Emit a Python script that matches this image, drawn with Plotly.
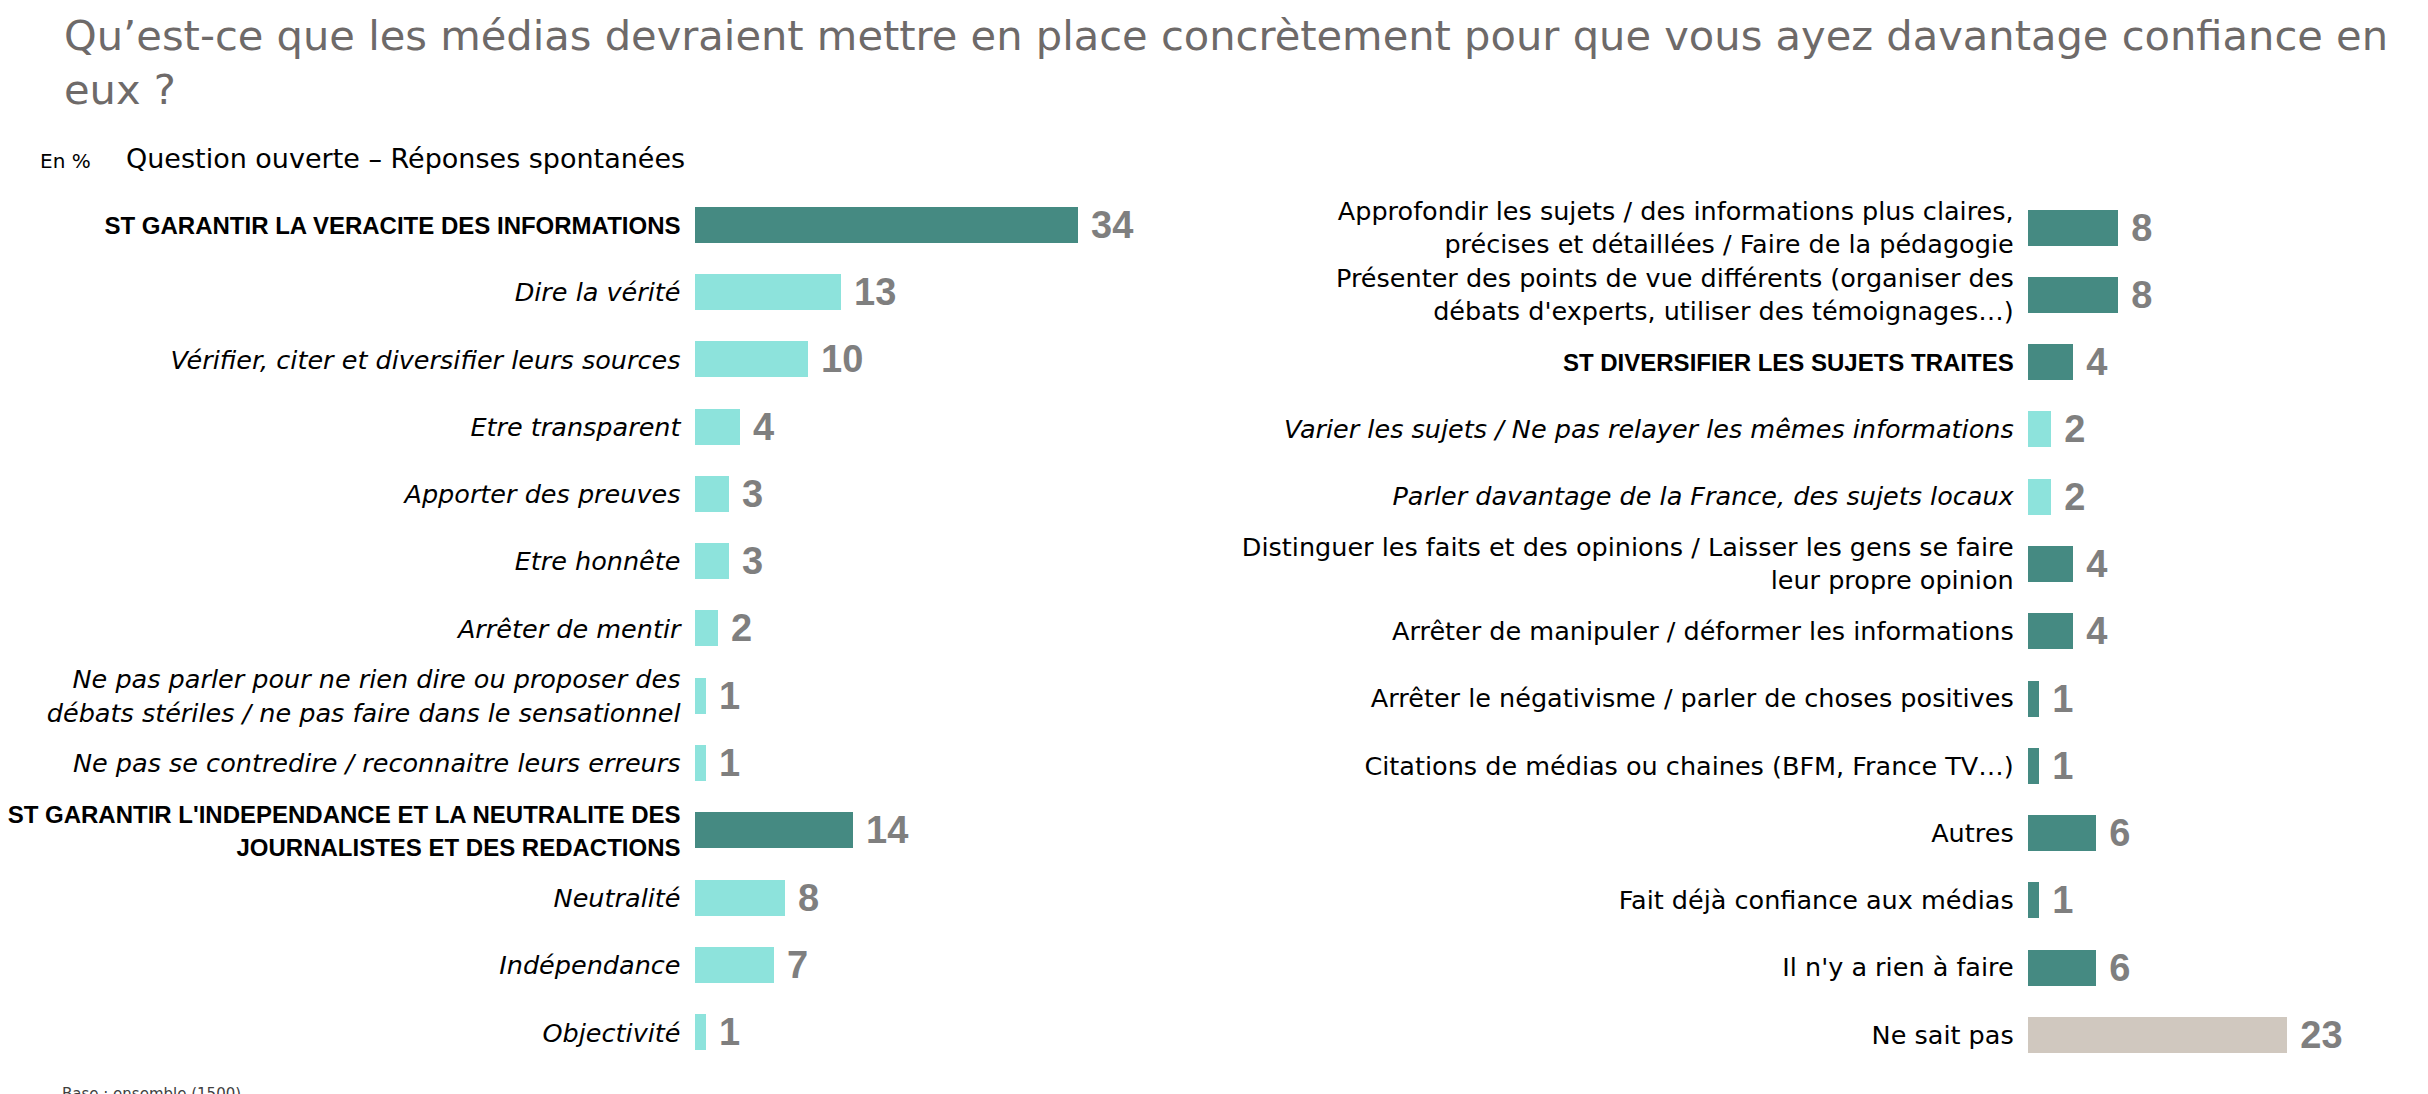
import plotly.graph_objects as go

W, H = 2428, 1094
OFF = 8  # default page body margin

# ---------------- data ----------------
left_labels = [
    "ST GARANTIR LA VERACITE DES INFORMATIONS",
    "Dire la vérité",
    "Vérifier, citer et diversifier leurs sources",
    "Etre transparent",
    "Apporter des preuves",
    "Etre honnête",
    "Arrêter de mentir",
    "Ne pas parler pour ne rien dire ou proposer des<br>débats stériles / ne pas faire dans le sensationnel",
    "Ne pas se contredire / reconnaitre leurs erreurs",
    "ST GARANTIR L'INDEPENDANCE ET LA NEUTRALITE DES<br>JOURNALISTES ET DES REDACTIONS",
    "Neutralité",
    "Indépendance",
    "Objectivité",
]
left_values = [34, 13, 10, 4, 3, 3, 2, 1, 1, 14, 8, 7, 1]
left_kinds = ["st", "sub", "sub", "sub", "sub", "sub", "sub", "sub", "sub", "st", "sub", "sub", "sub"]

right_labels = [
    "Approfondir les sujets / des informations plus claires,<br>précises et détaillées / Faire de la pédagogie",
    "Présenter des points de vue différents (organiser des<br>débats d'experts, utiliser des témoignages…)",
    "ST DIVERSIFIER LES SUJETS TRAITES",
    "Varier les sujets / Ne pas relayer les mêmes informations",
    "Parler davantage de la France, des sujets locaux",
    "Distinguer les faits et des opinions / Laisser les gens se faire<br>leur propre opinion",
    "Arrêter de manipuler / déformer les informations",
    "Arrêter le négativisme / parler de choses positives",
    "Citations de médias ou chaines (BFM, France TV…)",
    "Autres",
    "Fait déjà confiance aux médias",
    "Il n'y a rien à faire",
    "Ne sait pas",
]
right_values = [8, 8, 4, 2, 2, 4, 4, 1, 1, 6, 1, 6, 23]
right_kinds = ["item", "item", "st", "sub", "sub", "item", "item", "item", "item", "item", "item", "item", "nsp"]

# ---------------- styles ----------------
COLORS = {"st": "#458A82", "item": "#458A82", "sub": "#8DE3DC", "nsp": "#D0C8BF"}
LABEL_FONT = "DejaVu Sans"
VALUE_FONT = "Liberation Sans"


def fmt(label, kind):
    if kind == "st":
        return ('<span style="font-family:Liberation Sans;font-size:24px"><b>'
                + label + "</b></span>")
    if kind == "sub":
        return "<i>" + label + "</i>"
    return label


def fx(sx):
    return (sx - OFF) / W


def fy(sy):
    return 1 - (sy - OFF) / H


fig = go.Figure()

panels = [
    (left_labels, left_values, left_kinds, "x", "y"),
    (right_labels, right_values, right_kinds, "x2", "y2"),
]
for labels, values, kinds, xa, ya in panels:
    fig.add_trace(go.Bar(
        x=values,
        y=list(range(len(values))),
        orientation="h",
        marker=dict(color=[COLORS[k] for k in kinds], line=dict(width=0)),
        width=0.535,
        text=values,
        texttemplate="\u00a0<b>%{x}</b>",
        textposition="outside",
        constraintext="none",
        cliponaxis=False,
        textfont=dict(family=VALUE_FONT, size=38, color="#7F7F7F"),
        xaxis=xa, yaxis=ya,
        showlegend=False,
        hoverinfo="skip",
    ))

px_per_unit = 11.25
lx0 = 694.5
rx0 = 2027.7

fig.update_layout(
    width=W, height=H,
    margin=dict(l=0, r=0, t=0, b=0),
    paper_bgcolor="white", plot_bgcolor="white",
    bargap=0,
    xaxis=dict(domain=[fx(lx0), fx(lx0 + 40 * px_per_unit)], range=[0, 40],
               visible=False, fixedrange=True),
    xaxis2=dict(domain=[fx(rx0), fx(rx0 + 35 * px_per_unit)], range=[0, 35],
                visible=False, fixedrange=True, anchor="y2"),
    yaxis=dict(domain=[fy(1066.25), fy(191.35)], range=[12.5, -0.5],
               tickvals=list(range(len(left_labels))),
               ticktext=[fmt(l, k) for l, k in zip(left_labels, left_kinds)],
               showgrid=False, zeroline=False, showline=False, ticks="",
               ticklabelstandoff=13, anchor="x",
               tickfont=dict(family=LABEL_FONT, size=25.5, color="#000000")),
    yaxis2=dict(domain=[fy(1068.34), fy(193.66)], range=[12.5, -0.5],
                tickvals=list(range(len(right_labels))),
                ticktext=[fmt(l, k) for l, k in zip(right_labels, right_kinds)],
                showgrid=False, zeroline=False, showline=False, ticks="",
                ticklabelstandoff=13, anchor="x2",
                tickfont=dict(family=LABEL_FONT, size=25.5, color="#000000")),
)

fig.add_annotation(
    text="Qu’est-ce que les médias devraient mettre en place concrètement pour que vous ayez davantage confiance en<br>eux ?",
    xref="paper", yref="paper", x=fx(62), y=fy(9), xanchor="left", yanchor="top",
    align="left", showarrow=False,
    font=dict(family="DejaVu Sans", size=41.6, color="#6E6A69"),
)
fig.add_annotation(
    text="En %", xref="paper", yref="paper", x=fx(38), y=fy(161),
    xanchor="left", yanchor="middle", showarrow=False,
    font=dict(family="DejaVu Sans", size=20, color="#000000"),
)
fig.add_annotation(
    text="Question ouverte – Réponses spontanées", xref="paper", yref="paper",
    x=fx(124), y=fy(159), xanchor="left", yanchor="middle", showarrow=False,
    font=dict(family="DejaVu Sans", size=27, color="#000000"),
)
fig.add_annotation(
    text="Base : ensemble (1500)", xref="paper", yref="paper",
    x=fx(60), y=fy(1083), xanchor="left", yanchor="top", showarrow=False,
    font=dict(family="DejaVu Sans", size=15, color="#404040"),
)

fig.write_html("out.html")
